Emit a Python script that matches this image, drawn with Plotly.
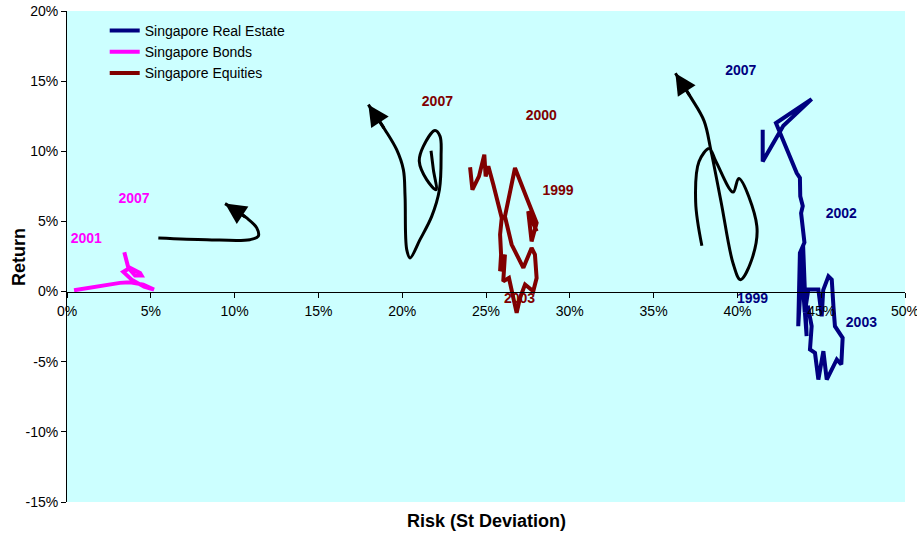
import plotly.graph_objects as go

# ---------------- data (risk %, return %) ----------------
re_risk = [41.51, 41.51, 42.74, 44.43, 42.30, 43.54, 43.73, 43.75, 43.90, 43.80, 44.00, 43.73, 43.63, 43.92, 44.13,
           43.85, 44.02, 44.23, 44.83, 45.03, 45.12, 45.43, 45.63, 45.73, 45.82, 46.28, 46.20, 45.93, 45.33, 45.13,
           44.83, 44.63, 44.33, 44.43, 44.20]
re_ret = [11.54, 9.28, 11.82, 13.72, 12.01, 8.45, 8.10, 6.80, 6.10, 5.60, 3.50, 2.76, -2.47, 3.30, -3.18,
          1.50, -1.50, 0.14, 0.14, -1.76, 0.10, 1.09, 0.85, -1.05, -2.47, -3.30, -5.20, -4.84, -6.27, -4.25,
          -6.27, -4.37, -4.13, -2.47, -1.00]

bond_risk = [0.42, 1.57, 3.16, 3.76, 4.55, 5.19, 4.60, 3.86, 3.36, 3.76, 4.36, 4.45, 4.06, 3.66, 3.56, 3.42]
bond_ret = [0.09, 0.31, 0.62, 0.66, 0.50, 0.14, 0.35, 0.85, 1.40, 1.69, 1.33, 1.14, 1.14, 1.69, 2.16, 2.80]

eq_risk = [24.05, 24.19, 24.58, 24.90, 24.98, 25.14, 25.44, 25.64, 25.74, 25.94, 25.84, 25.90, 25.84, 26.13, 26.03,
           26.37, 26.63, 26.83, 27.03, 27.33, 27.82, 28.02, 27.92, 27.72, 27.23, 26.53, 26.13, 26.73, 27.43, 28.02,
           27.72, 27.52, 28.02]
eq_ret = [8.86, 7.26, 8.21, 9.76, 8.21, 8.93, 7.62, 6.67, 6.08, 5.25, 4.06, 2.64, 1.45, 2.64, 0.73,
          0.97, -0.45, -1.52, -0.45, 0.50, 0.02, 0.97, 2.64, 3.11, 1.69, 3.35, 5.36, 8.81, 6.67, 4.89,
          3.58, 5.72, 4.29]

# hand-drawn trend arrows
arrow_bond_x = [5.45, 8.34, 10.92, 11.41, 11.32, 10.72, 9.43]
arrow_bond_y = [3.82, 3.70, 3.70, 3.94, 4.54, 5.25, 6.27]
arrow_eq_x = [21.72, 21.86, 22.02, 21.46, 21.02, 21.26, 21.96, 22.26, 22.32, 22.22, 21.76, 21.06, 20.47, 20.27,
              20.17, 20.07, 19.67, 18.97, 17.98]
arrow_eq_y = [10.04, 8.69, 7.26, 7.98, 9.28, 10.35, 11.49, 11.06, 9.64, 7.26, 5.36, 3.70, 2.40, 2.99,
              6.79, 8.69, 10.11, 11.54, 13.32]
arrow_re_x = [37.88, 37.51, 37.71, 38.32, 38.72, 39.74, 40.08, 41.16, 40.85, 40.18, 39.74, 39.03, 38.43, 38.01,
              37.21, 36.30]
arrow_re_y = [3.27, 6.37, 9.27, 10.19, 9.27, 7.09, 8.06, 4.67, 2.26, 0.85, 2.02, 6.37, 10.00, 12.17,
              13.86, 15.56]

# year labels
re_lbl_text = ["2007", "2002", "1999", "2003"]
re_lbl_x = [40.2, 46.2, 40.9, 47.4]
re_lbl_y = [15.7, 5.5, -0.6, -2.3]
bond_lbl_text = ["2007", "2001"]
bond_lbl_x = [4.0, 1.15]
bond_lbl_y = [6.55, 3.7]
eq_lbl_text = ["2007", "2000", "1999", "2003"]
eq_lbl_x = [22.1, 28.3, 29.3, 27.0]
eq_lbl_y = [13.5, 12.5, 7.1, -0.6]

x_ticks = [0, 5, 10, 15, 20, 25, 30, 35, 40, 45, 50]
y_ticks = [-15, -10, -5, 0, 5, 10, 15, 20]

NAVY = "#000080"
MAGENTA = "#FF00FF"
MAROON = "#800000"
FONT = "Liberation Sans, Arial, sans-serif"

fig = go.Figure()

# labels first (drawn beneath lines)
for txt, xs, ys, col in [(re_lbl_text, re_lbl_x, re_lbl_y, NAVY),
                         (bond_lbl_text, bond_lbl_x, bond_lbl_y, MAGENTA),
                         (eq_lbl_text, eq_lbl_x, eq_lbl_y, MAROON)]:
    fig.add_trace(go.Scatter(x=xs, y=ys, mode="text", text=[f"<b>{t}</b>" for t in txt],
                             textfont=dict(family=FONT, size=14, color=col),
                             showlegend=False, hoverinfo="skip"))

# arrows (black curves)
for ax_, ay_ in [(arrow_bond_x, arrow_bond_y), (arrow_eq_x, arrow_eq_y), (arrow_re_x, arrow_re_y)]:
    fig.add_trace(go.Scatter(x=ax_, y=ay_, mode="lines", line=dict(color="black", width=3, shape="spline", smoothing=1.0),
                             showlegend=False, hoverinfo="skip"))
    fig.add_annotation(x=ax_[-1], y=ay_[-1], ax=ax_[-2], ay=ay_[-2], xref="x", yref="y", axref="x", ayref="y",
                       text="", showarrow=True, arrowhead=2, arrowsize=1.4, arrowwidth=3, arrowcolor="black")

fig.add_trace(go.Scatter(x=re_risk, y=re_ret, mode="lines", name="Singapore Real Estate",
                         line=dict(color=NAVY, width=4)))
fig.add_trace(go.Scatter(x=bond_risk, y=bond_ret, mode="lines", name="Singapore Bonds",
                         line=dict(color=MAGENTA, width=4)))
fig.add_trace(go.Scatter(x=eq_risk, y=eq_ret, mode="lines", name="Singapore Equities",
                         line=dict(color=MAROON, width=4)))

y0_frac = (0 - min(y_ticks)) / (max(y_ticks) - min(y_ticks))

fig.update_layout(
    width=917, height=535,
    margin=dict(l=67, r=12, t=11, b=33, autoexpand=False),
    paper_bgcolor="white", plot_bgcolor="#CCFFFF",
    font=dict(family=FONT, size=14, color="black"),
    showlegend=True,
    legend=dict(x=0.045, y=0.992, xanchor="left", yanchor="top", bgcolor="rgba(0,0,0,0)",
                font=dict(family=FONT, size=14, color="black"), tracegroupgap=0),
    xaxis=dict(range=[0, 50], tickvals=x_ticks, ticktext=[f"{v}%" for v in x_ticks],
               showgrid=False, zeroline=False, showline=True, linecolor="black", linewidth=1,
               ticks="outside", ticklen=5, tickcolor="black", anchor="free", position=y0_frac,
               automargin=False, ticklabeloverflow="allow", ticklabelstandoff=2,
               tickfont=dict(family=FONT, size=14, color="black")),
    yaxis=dict(range=[-15, 20], tickvals=y_ticks, ticktext=[f"{v}%" for v in y_ticks],
               showgrid=False, zeroline=False, showline=True, linecolor="black", linewidth=1,
               ticks="outside", ticklen=5, tickcolor="black", automargin=False,
               tickfont=dict(family=FONT, size=14, color="black")),
)

fig.add_annotation(x=-0.058, y=0.5, xref="paper", yref="paper", text="<b>Return</b>", textangle=-90,
                   showarrow=False, font=dict(family=FONT, size=18, color="black"), xanchor="center")
fig.add_annotation(x=0.5, y=-0.039, xref="paper", yref="paper", text="<b>Risk (St Deviation)</b>",
                   showarrow=False, font=dict(family=FONT, size=18, color="black"), yanchor="middle")

fig.write_html("out.html", config={"displayModeBar": False},
               post_script="document.body.style.margin='0px';")
